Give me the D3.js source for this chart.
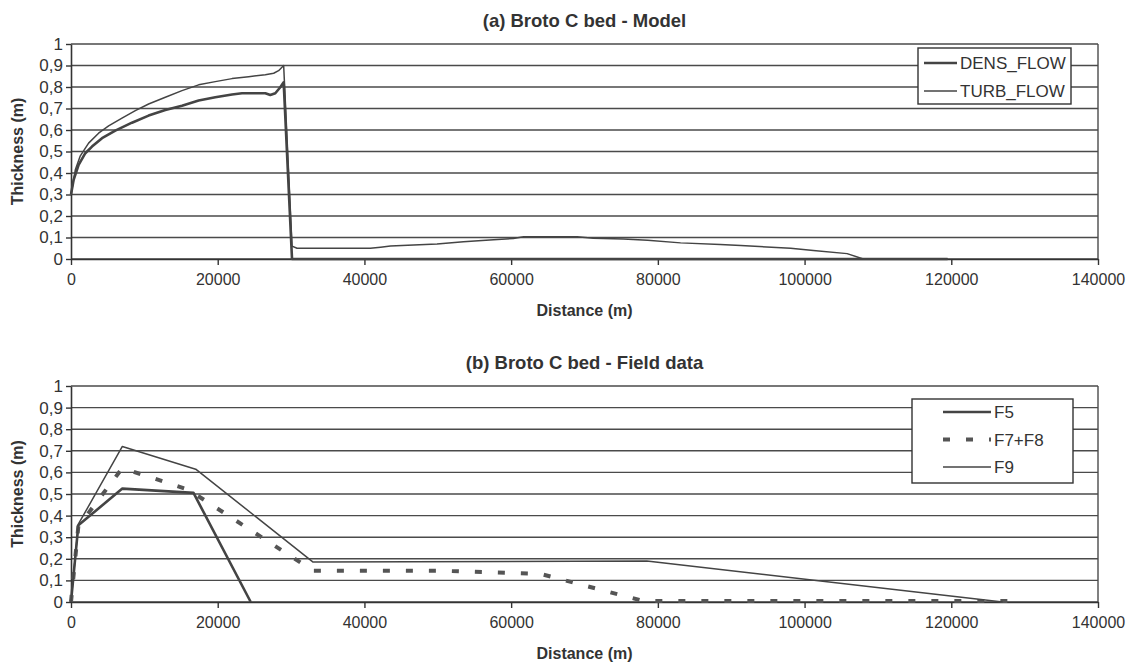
<!DOCTYPE html>
<html>
<head>
<meta charset="utf-8">
<script src="https://cdnjs.cloudflare.com/ajax/libs/d3/7.8.5/d3.min.js"></script>
<style>
	body { margin: 0; background: #fff; }
	text { font-family: "Liberation Sans", Arial, sans-serif; fill: #333; }
	.title { font-size: 18.5px; font-weight: bold; }
	.axis-title { font-size: 16px; font-weight: bold; }
	.x.axis text { font-size: 16px; }
	.y.axis text { font-size: 17px; }
	.legend text { font-size: 17px; }
</style>
</head>
<body>
<div id="chart"></div>
<script>

// (a) model output: distance (m) / thickness (m)
var densX = [0, 360, 1040, 1950, 2860, 4230, 6040, 8310, 10580, 12860, 15130, 17400, 19670, 21950, 23310, 26490, 27170, 27850, 28530, 28990, 30130, 119500];
var densY = [0.3, 0.368, 0.438, 0.492, 0.523, 0.562, 0.597, 0.634, 0.667, 0.693, 0.713, 0.737, 0.752, 0.765, 0.771, 0.771, 0.763, 0.771, 0.799, 0.822, 0, 0];

var turbX = [0, 590, 1270, 2400, 3760, 5130, 6950, 8770, 10580, 12860, 15130, 17400, 19670, 21950, 24220, 26490, 27630, 28300, 28990, 30130, 30810, 40800, 42200, 43550, 46700, 49900, 53500, 57600, 60300, 61700, 69000, 71200, 75300, 78600, 83100, 88500, 91300, 98100, 101200, 105800, 108000, 119500];
var turbY = [0.3, 0.415, 0.48, 0.539, 0.585, 0.619, 0.655, 0.69, 0.721, 0.752, 0.783, 0.81, 0.825, 0.839, 0.848, 0.857, 0.864, 0.876, 0.9, 0.06, 0.05, 0.05, 0.055, 0.06, 0.065, 0.07, 0.08, 0.09, 0.095, 0.103, 0.103, 0.097, 0.093, 0.087, 0.075, 0.068, 0.063, 0.05, 0.04, 0.025, 0, 0];

// (b) field data
var f5X = [0, 1000, 7000, 16700, 24500];
var f5Y = [0, 0.355, 0.525, 0.505, 0];

var f78X = [0, 1000, 7000, 16000, 33000, 50000, 64000, 78000, 128000];
var f78Y = [0, 0.35, 0.62, 0.52, 0.145, 0.145, 0.13, 0.005, 0.005];

var f9X = [0, 1000, 7000, 17000, 33000, 78500, 127000];
var f9Y = [0, 0.36, 0.72, 0.615, 0.185, 0.19, 0];

// ticks
var xTicks = [0, 20000, 40000, 60000, 80000, 100000, 120000, 140000];
var yTicks = [0, 0.1, 0.2, 0.3, 0.4, 0.5, 0.6, 0.7, 0.8, 0.9, 1];

var Chart = function() {

	var svg,
		x,
		margin,
		locale;

	// zip two arrays into points
	var points = function(xs, ys) {
		return xs.map(function(d, i) { return [d, ys[i]]; });
	}

	// axis lines and ticks in dark grey
	var styleAxis = function(sel) {
		sel.select(".domain")
		.attr("stroke", "#333")
		.attr("stroke-width", 1.6);
		sel.selectAll(".tick line")
		.attr("stroke", "#333")
		.attr("stroke-width", 1.4);
		sel.selectAll(".tick text")
		.attr("fill", "#333");
	}

	// draw one panel: title, grid, axes, lines, legend
	var panel = function(opts) {

		var y, g, line, legend;

		y = d3.scaleLinear()
		.domain([0, 1])
		.range([opts.bottom, opts.top]);

		g = svg.append("g")
		.attr("class", "panel");

		// title
		g.append("text")
		.attr("class", "title")
		.attr("text-anchor", "middle")
		.attr("x", (margin.left + margin.right) / 2)
		.attr("y", opts.top - 17)
		.text(opts.title);

		// horizontal gridlines (1 acts as top border)
		g.selectAll("line.grid")
		.data(yTicks)
		.enter()
		.append("line")
		.attr("class", "grid")
		.attr("x1", margin.left)
		.attr("x2", margin.right)
		.attr("y1", function(d) { return y(d); })
		.attr("y2", function(d) { return y(d); })
		.attr("stroke", "#4a4a4a")
		.attr("stroke-width", 1.4);

		// right border
		g.append("line")
		.attr("x1", margin.right)
		.attr("x2", margin.right)
		.attr("y1", opts.top)
		.attr("y2", opts.bottom)
		.attr("stroke", "#4a4a4a")
		.attr("stroke-width", 1.4);

		// x axis
		g.append("g")
		.attr("class", "x axis")
		.attr("transform", "translate(0," + opts.bottom + ")")
		.call(d3.axisBottom(x)
			.tickValues(xTicks)
			.tickFormat(d3.format("d"))
			.tickSize(6)
			.tickSizeOuter(0)
			.tickPadding(9))
		.call(styleAxis);

		g.append("text")
		.attr("class", "axis-title")
		.attr("text-anchor", "middle")
		.attr("x", (margin.left + margin.right) / 2)
		.attr("y", opts.bottom + 57)
		.text("Distance (m)");

		// y axis
		g.append("g")
		.attr("class", "y axis")
		.attr("transform", "translate(" + margin.left + ",0)")
		.call(d3.axisLeft(y)
			.tickValues(yTicks)
			.tickFormat(locale.format(".1~f"))
			.tickSize(5)
			.tickSizeOuter(0)
			.tickPadding(3))
		.call(styleAxis);

		g.append("text")
		.attr("class", "axis-title")
		.attr("text-anchor", "middle")
		.attr("transform", "translate(23," + ((opts.top + opts.bottom) / 2) + ")rotate(-90)")
		.text("Thickness (m)");

		// series lines
		line = d3.line()
		.x(function(d) { return x(d[0]); })
		.y(function(d) { return y(d[1]); });

		g.selectAll("path.series")
		.data(opts.series)
		.enter()
		.append("path")
		.attr("class", "series")
		.attr("fill", "none")
		.attr("stroke", function(d) { return d.color; })
		.attr("stroke-width", function(d) { return d.width; })
		.attr("stroke-dasharray", function(d) { return d.dash || null; })
		.attr("stroke-linejoin", "round")
		.attr("d", function(d) { return line(points(d.xs, d.ys)); });

		// legend
		legend = g.append("g")
		.attr("class", "legend");

		legend.append("rect")
		.attr("x", opts.legend.x)
		.attr("y", opts.legend.y)
		.attr("width", opts.legend.w)
		.attr("height", opts.legend.h)
		.attr("fill", "#fff")
		.attr("stroke", "#333")
		.attr("stroke-width", 1.4);

		opts.series.forEach(function(s, i) {
			var ly = opts.legend.y + opts.legend.first + i * opts.legend.step;
			legend.append("line")
			.attr("x1", opts.legend.lx)
			.attr("x2", opts.legend.lx + opts.legend.len)
			.attr("y1", ly)
			.attr("y2", ly)
			.attr("stroke", s.color)
			.attr("stroke-width", s.width)
			.attr("stroke-dasharray", s.dash || null);
			legend.append("text")
			.attr("x", opts.legend.lx + opts.legend.len + 3)
			.attr("y", ly + 6)
			.text(s.name);
		});
	}

	var render = function() {

		margin = {left: 71, right: 1098};

		locale = d3.formatLocale({decimal: ",", thousands: "", grouping: [3], currency: ["", ""]});

		x = d3.scaleLinear()
		.domain([0, 140000])
		.range([margin.left, margin.right]);

		svg = d3.select("#chart").append("svg")
		.attr("width", 1130)
		.attr("height", 664);

		panel({
			title: "(a) Broto C bed - Model",
			top: 44,
			bottom: 259,
			series: [
				{name: "DENS_FLOW", xs: densX, ys: densY, color: "#444", width: 2.6},
				{name: "TURB_FLOW", xs: turbX, ys: turbY, color: "#444", width: 1.5}
			],
			legend: {x: 918, y: 48, w: 153, h: 56, first: 15, step: 28, lx: 924, len: 33}
		});

		panel({
			title: "(b) Broto C bed - Field data",
			top: 386,
			bottom: 602,
			series: [
				{name: "F5", xs: f5X, ys: f5Y, color: "#444", width: 2.6},
				{name: "F7+F8", xs: f78X, ys: f78Y, color: "#555", width: 4, dash: "7,16"},
				{name: "F9", xs: f9X, ys: f9Y, color: "#444", width: 1.5}
			],
			legend: {x: 912, y: 399, w: 161, h: 84, first: 13, step: 27.5, lx: 943, len: 48}
		});
	}

	return {
		render: render
	}

};

Chart().render();
</script>
</body>
</html>
